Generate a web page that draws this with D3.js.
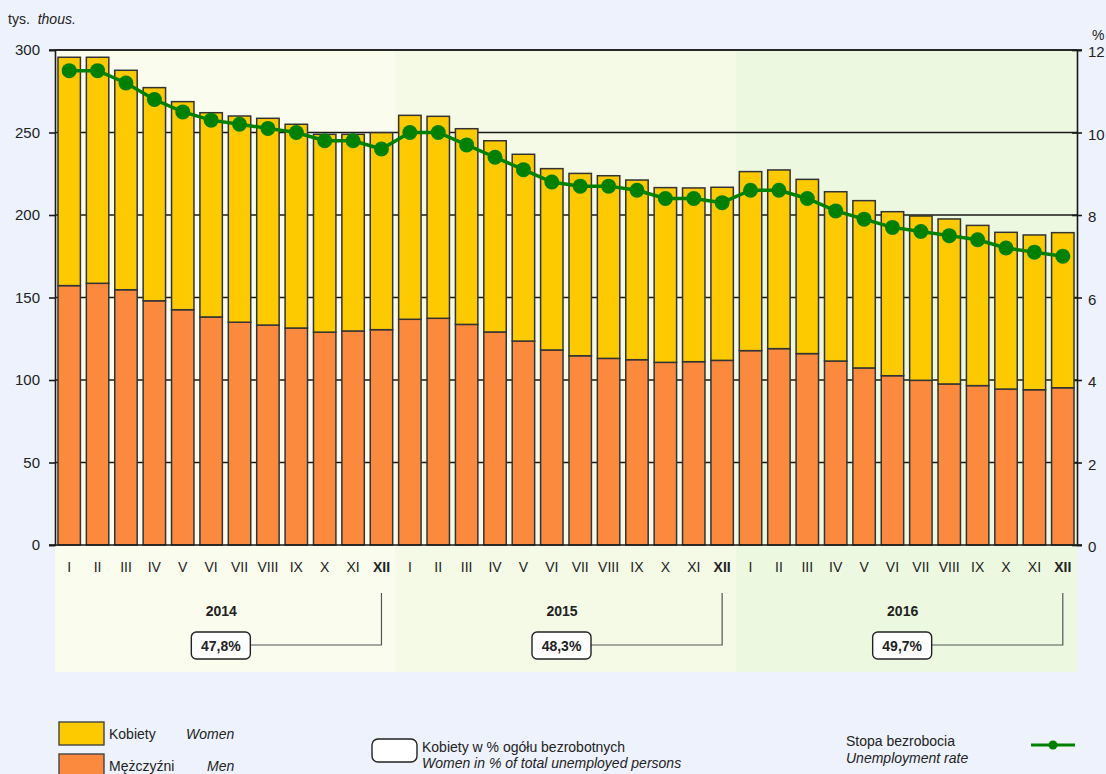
<!DOCTYPE html>
<html>
<head>
<meta charset="utf-8">
<script src="https://cdn.jsdelivr.net/npm/d3@7"></script>
<style>
body { margin: 0; background: #eef2fc; }
svg { display: block; font-family: 'Liberation Sans', Arial, sans-serif; }
</style>
</head>
<body>
<svg width="1106" height="774"></svg>
<script>
const months = ['I', 'II', 'III', 'IV', 'V', 'VI', 'VII', 'VIII', 'IX', 'X', 'XI', 'XII'];
const years = ['2014', '2015', '2016'];
const men = [
    157.2, 158.6, 154.7, 148.0, 142.6, 138.2, 135.0, 133.3, 131.5, 129.0, 129.7, 130.5,
    136.8, 137.4, 133.7, 129.1, 123.6, 118.2, 114.7, 113.1, 112.3, 110.7, 111.1, 111.9,
    117.8, 119.0, 116.0, 111.5, 107.3, 102.6, 99.8, 97.6, 96.6, 94.5, 94.1, 95.3
];
const women = [
    138.4, 137.0, 133.0, 129.2, 126.1, 123.8, 125.0, 125.3, 123.5, 119.9, 119.2, 119.4,
    123.6, 122.4, 118.6, 115.9, 113.2, 109.9, 110.5, 110.7, 108.9, 105.9, 105.3, 104.9,
    108.5, 108.3, 105.6, 102.6, 101.4, 99.4, 99.6, 100.0, 97.1, 95.0, 93.8, 94.0
];
const rate = [
    11.5, 11.5, 11.2, 10.8, 10.5, 10.3, 10.2, 10.1, 10.0, 9.8, 9.8, 9.6,
    10.0, 10.0, 9.7, 9.4, 9.1, 8.8, 8.7, 8.7, 8.6, 8.4, 8.4, 8.3,
    8.6, 8.6, 8.4, 8.1, 7.9, 7.7, 7.6, 7.5, 7.4, 7.2, 7.1, 7.0
];
const womenShare = ['47,8%', '48,3%', '49,7%'];
const leftTicks = [0, 50, 100, 150, 200, 250, 300];
const rightTicks = [0, 2, 4, 6, 8, 10, 12];

const svg = d3.select('svg');
const plotLeft = 55;
const plotRight = 1077;
const plotTop = 50;
const plotBottom = 545;
const panelBottom = 672;
const panelColors = ['#fafdee', '#f4fae6', '#ecf9e0'];

const keys = [];
years.forEach(yr => months.forEach(m => keys.push(yr + '-' + m)));

const x = d3.scaleBand().domain(keys).range([plotLeft, plotRight]).paddingInner(0.21).paddingOuter(0.105);
const y = d3.scaleLinear().domain([0, 300]).range([plotBottom, plotTop]);
const y2 = d3.scaleLinear().domain([0, 12]).range([plotBottom, plotTop]);

// panele lat
const step = x.step();
years.forEach((yr, i) => {
    const x0 = plotLeft + step * 12 * i;
    const x1 = plotLeft + step * 12 * (i + 1);
    svg.append('rect')
    .attr('x', x0).attr('y', plotTop)
    .attr('width', x1 - x0).attr('height', panelBottom - plotTop)
    .attr('fill', panelColors[i]);
});

// siatka
svg.append('g')
.selectAll('line')
.data(leftTicks.filter(t => t > 0))
.enter().append('line')
.attr('x1', plotLeft).attr('x2', plotRight)
.attr('y1', d => y(d)).attr('y2', d => y(d))
.attr('stroke', '#1a1a1a')
.attr('stroke-width', 1.4);

// osie
const axL = svg.append('g')
.attr('transform', `translate(${plotLeft},0)`)
.call(d3.axisLeft(y).tickValues(leftTicks).tickSize(6).tickPadding(9));
const axR = svg.append('g')
.attr('transform', `translate(${plotRight},0)`)
.call(d3.axisRight(y2).tickValues(rightTicks).tickSize(5).tickPadding(6));
[axL, axR].forEach(a => {
    a.select('.domain').attr('stroke', '#1a1a1a').attr('stroke-width', 1.6);
    a.selectAll('.tick line').attr('stroke', '#1a1a1a').attr('stroke-width', 1.6);
    a.selectAll('.tick text').attr('font-size', 15).attr('fill', '#222')
    .attr('font-family', "'Liberation Sans', Arial, sans-serif");
});
axR.selectAll('.tick line').attr('x1', -5);
axR.selectAll('.tick text').attr('y', 2);

// słupki
const bars = svg.append('g');
bars.selectAll('rect.men')
.data(keys)
.enter().append('rect')
.attr('class', 'men')
.attr('x', d => x(d))
.attr('width', x.bandwidth())
.attr('y', (d, i) => y(men[i]))
.attr('height', (d, i) => plotBottom - y(men[i]))
.attr('fill', '#fc8a3e')
.attr('stroke', '#333')
.attr('stroke-width', 1.5);
bars.selectAll('rect.women')
.data(keys)
.enter().append('rect')
.attr('class', 'women')
.attr('x', d => x(d))
.attr('width', x.bandwidth())
.attr('y', (d, i) => y(men[i] + women[i]))
.attr('height', (d, i) => y(men[i]) - y(men[i] + women[i]))
.attr('fill', '#fdca00')
.attr('stroke', '#333')
.attr('stroke-width', 1.5);

// linia stopy bezrobocia
const cx = d => x(d) + x.bandwidth() / 2;
svg.append('path')
.datum(keys)
.attr('fill', 'none')
.attr('stroke', '#008000')
.attr('stroke-width', 3.5)
.attr('d', d3.line().x(cx).y((d, i) => y2(rate[i])));
svg.append('g')
.selectAll('circle')
.data(keys)
.enter().append('circle')
.attr('cx', cx)
.attr('cy', (d, i) => y2(rate[i]))
.attr('r', 7.5)
.attr('fill', '#008000');

// oś dolna i górna krawędź
svg.append('line')
.attr('x1', plotLeft - 6).attr('x2', plotRight + 5)
.attr('y1', plotBottom).attr('y2', plotBottom)
.attr('stroke', '#1a1a1a').attr('stroke-width', 1.6);
svg.append('line')
.attr('x1', plotLeft - 6).attr('x2', plotRight + 5)
.attr('y1', plotTop).attr('y2', plotTop)
.attr('stroke', '#1a1a1a').attr('stroke-width', 1.6);

svg.append('g')
.selectAll('text')
.data(keys)
.enter().append('text')
.attr('x', cx)
.attr('y', 572)
.attr('text-anchor', 'middle')
.attr('font-size', 14)
.attr('font-weight', d => d.endsWith('-XII') ? 'bold' : 'normal')
.attr('fill', '#222')
.text(d => d.split('-')[1]);

// lata i udział kobiet
years.forEach((yr, i) => {
    const x0 = plotLeft + step * 12 * i;
    const mid = x0 + step * 6 - 4;
    svg.append('text')
    .attr('x', mid).attr('y', 616)
    .attr('text-anchor', 'middle')
    .attr('font-size', 14).attr('font-weight', 'bold').attr('fill', '#222')
    .text(yr);
    const bx = mid - 30;
    const xii = cx(yr + '-XII');
    svg.append('path')
    .attr('d', `M${bx + 59},645H${xii}V593`)
    .attr('fill', 'none').attr('stroke', '#555').attr('stroke-width', 1.2);
    svg.append('rect')
    .attr('x', bx).attr('y', 632).attr('width', 59).attr('height', 27).attr('rx', 5)
    .attr('fill', '#fff').attr('stroke', '#222').attr('stroke-width', 1.4);
    svg.append('text')
    .attr('x', bx + 29.5).attr('y', 651)
    .attr('text-anchor', 'middle')
    .attr('font-size', 14).attr('font-weight', 'bold').attr('fill', '#222')
    .text(womenShare[i]);
});

// jednostki
svg.append('text').attr('x', 8).attr('y', 24).attr('font-size', 14).attr('fill', '#222')
.text('tys. ').append('tspan').attr('font-style', 'italic').attr('dx', 4).text('thous.');
svg.append('text').attr('x', 1092).attr('y', 40).attr('font-size', 14).attr('fill', '#222').text('%');

// legenda
const lg = svg.append('g').attr('font-size', 14).attr('fill', '#222');
lg.append('rect').attr('x', 59).attr('y', 722).attr('width', 45).attr('height', 23)
.attr('fill', '#fdca00').attr('stroke', '#444').attr('stroke-width', 1.4);
lg.append('rect').attr('x', 59).attr('y', 754).attr('width', 45).attr('height', 23)
.attr('fill', '#fc8a3e').attr('stroke', '#444').attr('stroke-width', 1.4);
lg.append('text').attr('x', 109).attr('y', 739).text('Kobiety');
lg.append('text').attr('x', 186).attr('y', 739).attr('font-style', 'italic').text('Women');
lg.append('text').attr('x', 109).attr('y', 771).text('Mężczyźni');
lg.append('text').attr('x', 207).attr('y', 771).attr('font-style', 'italic').text('Men');

lg.append('rect').attr('x', 372).attr('y', 739).attr('width', 45).attr('height', 23).attr('rx', 6)
.attr('fill', '#fff').attr('stroke', '#222').attr('stroke-width', 1.4);
lg.append('text').attr('x', 422).attr('y', 752).text('Kobiety w % ogółu bezrobotnych');
lg.append('text').attr('x', 422).attr('y', 768).attr('font-style', 'italic')
.text('Women in % of total unemployed persons');

lg.append('text').attr('x', 846).attr('y', 746).text('Stopa bezrobocia');
lg.append('text').attr('x', 846).attr('y', 763).attr('font-style', 'italic').text('Unemployment rate');
lg.append('line').attr('x1', 1031).attr('x2', 1075).attr('y1', 745).attr('y2', 745)
.attr('stroke', '#008000').attr('stroke-width', 3);
lg.append('circle').attr('cx', 1053).attr('cy', 745).attr('r', 4.5).attr('fill', '#008000');
</script>
</body>
</html>
